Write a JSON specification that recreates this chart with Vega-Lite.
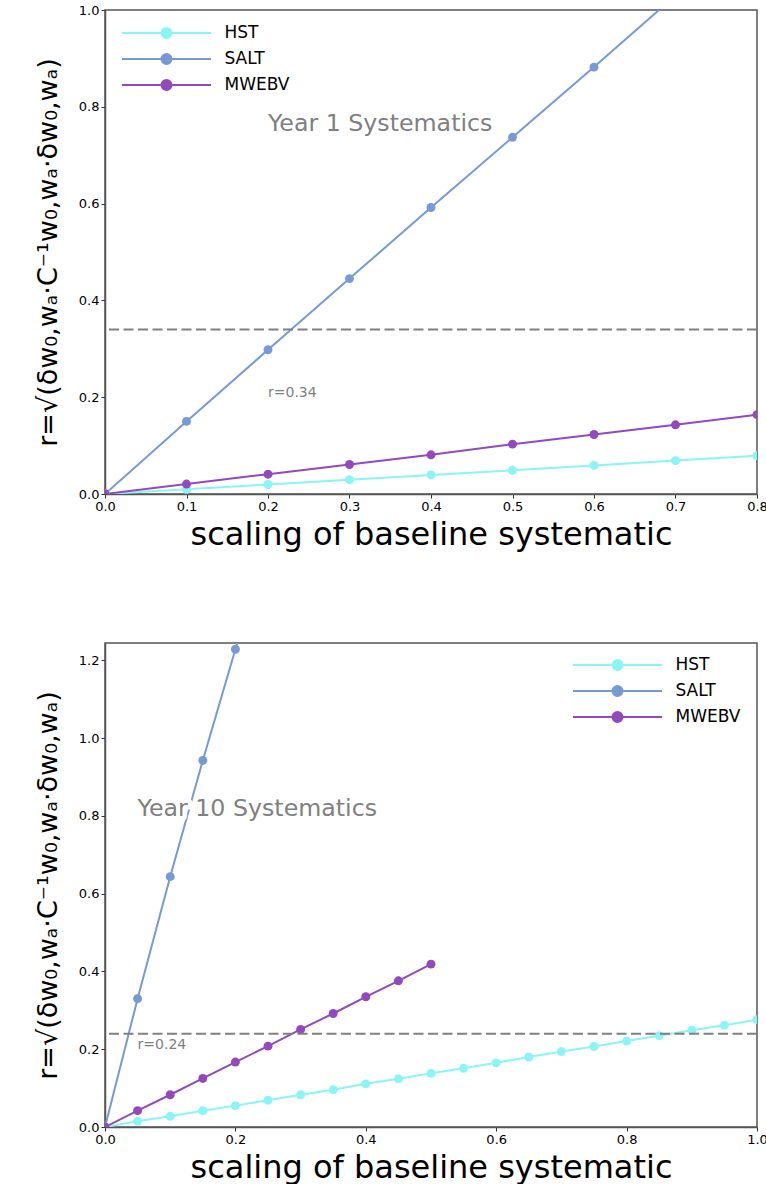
{
  "$schema": "https://vega.github.io/schema/vega-lite/v6.json",
  "background": "white",
  "padding": {"left": 33, "top": 3, "right": 0, "bottom": 0},
  "bounds": "flush",
  "spacing": 149,
  "datasets": {
    "y1": [
      {"series": "HST", "x": 0.0, "r": 0.0},
      {"series": "HST", "x": 0.1, "r": 0.0098},
      {"series": "HST", "x": 0.2, "r": 0.0197},
      {"series": "HST", "x": 0.3, "r": 0.0296},
      {"series": "HST", "x": 0.4, "r": 0.0394},
      {"series": "HST", "x": 0.5, "r": 0.049},
      {"series": "HST", "x": 0.6, "r": 0.059},
      {"series": "HST", "x": 0.7, "r": 0.069},
      {"series": "HST", "x": 0.8, "r": 0.079},
      {"series": "SALT", "x": 0.0, "r": 0.0},
      {"series": "SALT", "x": 0.1, "r": 0.15},
      {"series": "SALT", "x": 0.2, "r": 0.298},
      {"series": "SALT", "x": 0.3, "r": 0.445},
      {"series": "SALT", "x": 0.4, "r": 0.592},
      {"series": "SALT", "x": 0.5, "r": 0.737},
      {"series": "SALT", "x": 0.6, "r": 0.882},
      {"series": "SALT", "x": 0.7, "r": 1.03},
      {"series": "SALT", "x": 0.8, "r": 1.176},
      {"series": "MWEBV", "x": 0.0, "r": 0.0},
      {"series": "MWEBV", "x": 0.1, "r": 0.0205},
      {"series": "MWEBV", "x": 0.2, "r": 0.041},
      {"series": "MWEBV", "x": 0.3, "r": 0.061},
      {"series": "MWEBV", "x": 0.4, "r": 0.081},
      {"series": "MWEBV", "x": 0.5, "r": 0.103},
      {"series": "MWEBV", "x": 0.6, "r": 0.123},
      {"series": "MWEBV", "x": 0.7, "r": 0.143},
      {"series": "MWEBV", "x": 0.8, "r": 0.164}
    ],
    "y10": [
      {"series": "HST", "x": 0.0, "r": 0.0},
      {"series": "HST", "x": 0.05, "r": 0.0146},
      {"series": "HST", "x": 0.1, "r": 0.0275},
      {"series": "HST", "x": 0.15, "r": 0.042},
      {"series": "HST", "x": 0.2, "r": 0.055},
      {"series": "HST", "x": 0.25, "r": 0.069},
      {"series": "HST", "x": 0.3, "r": 0.083},
      {"series": "HST", "x": 0.35, "r": 0.096},
      {"series": "HST", "x": 0.4, "r": 0.111},
      {"series": "HST", "x": 0.45, "r": 0.124},
      {"series": "HST", "x": 0.5, "r": 0.138},
      {"series": "HST", "x": 0.55, "r": 0.151},
      {"series": "HST", "x": 0.6, "r": 0.165},
      {"series": "HST", "x": 0.65, "r": 0.18},
      {"series": "HST", "x": 0.7, "r": 0.194},
      {"series": "HST", "x": 0.75, "r": 0.207},
      {"series": "HST", "x": 0.8, "r": 0.221},
      {"series": "HST", "x": 0.85, "r": 0.235},
      {"series": "HST", "x": 0.9, "r": 0.249},
      {"series": "HST", "x": 0.95, "r": 0.262},
      {"series": "HST", "x": 1.0, "r": 0.276},
      {"series": "SALT", "x": 0.0, "r": 0.0},
      {"series": "SALT", "x": 0.05, "r": 0.33},
      {"series": "SALT", "x": 0.1, "r": 0.644},
      {"series": "SALT", "x": 0.15, "r": 0.943},
      {"series": "SALT", "x": 0.2, "r": 1.229},
      {"series": "SALT", "x": 0.25, "r": 1.52},
      {"series": "MWEBV", "x": 0.0, "r": 0.0},
      {"series": "MWEBV", "x": 0.05, "r": 0.042},
      {"series": "MWEBV", "x": 0.1, "r": 0.083},
      {"series": "MWEBV", "x": 0.15, "r": 0.125},
      {"series": "MWEBV", "x": 0.2, "r": 0.167},
      {"series": "MWEBV", "x": 0.25, "r": 0.208},
      {"series": "MWEBV", "x": 0.3, "r": 0.251},
      {"series": "MWEBV", "x": 0.35, "r": 0.292},
      {"series": "MWEBV", "x": 0.4, "r": 0.335},
      {"series": "MWEBV", "x": 0.45, "r": 0.376},
      {"series": "MWEBV", "x": 0.5, "r": 0.419}
    ]
  },
  "config": {
    "font": "DejaVu Sans",
    "view": {"stroke": "#555", "strokeWidth": 1.5},
    "axis": {
      "grid": false,
      "labelFlush": false,
      "labelFont": "DejaVu Sans",
      "labelFontSize": 13,
      "labelColor": "black",
      "labelPadding": 2,
      "tickSize": 4,
      "tickColor": "#333",
      "tickWidth": 1,
      "domainColor": "#555",
      "domainWidth": 1.5,
      "titleFont": "DejaVu Sans",
      "titleFontWeight": "normal",
      "titleColor": "black"
    },
    "legend": {
      "labelFont": "DejaVu Sans",
      "labelFontSize": 17,
      "labelColor": "black"
    }
  },
  "resolve": {
    "scale": {"color": "independent", "x": "independent", "y": "independent"},
    "legend": {"color": "independent"}
  },
  "vconcat": [
    {
      "width": 652,
      "height": 484,
      "data": {"name": "y1"},
      "layer": [
        {
          "encoding": {
            "x": {
              "field": "x", "type": "quantitative",
              "scale": {"domain": [0, 0.8], "nice": false, "zero": false},
              "axis": {"values": [0, 0.1, 0.2, 0.3, 0.4, 0.5, 0.6, 0.7, 0.8], "format": ".1f", "title": "scaling of baseline systematic", "titleFontSize": 32, "titlePadding": 6}
            },
            "y": {
              "field": "r", "type": "quantitative",
              "scale": {"domain": [0, 1.0], "nice": false},
              "axis": {"values": [0, 0.2, 0.4, 0.6, 0.8, 1.0], "format": ".1f", "title": "r=√(δw₀,wₐ·C⁻¹w₀,wₐ·δw₀,wₐ)", "titleFontSize": 27, "titlePadding": 16}
            },
            "color": {
              "field": "series", "type": "nominal",
              "scale": {"domain": ["HST", "SALT", "MWEBV"], "range": ["#8af5f5", "#7799d6", "#9448bd"]},
              "legend": {
                "title": null, "orient": "none", "legendX": 50.5, "legendY": 12,
                "symbolType": "M -4.45 0 L 4.45 0 M -0.5 0 A 0.5 0.5 0 1 0 0.5 0 A 0.5 0.5 0 1 0 -0.5 0 Z",
                "symbolSize": 400, "symbolStrokeWidth": 2, "symbolOpacity": 1,
                "labelOffset": 47, "rowPadding": 6, "padding": 0,
                "encode": {"symbols": {"update": {
                  "fill": {"signal": "datum.value === 'HST' ? '#8af5f5' : datum.value === 'SALT' ? '#7799d6' : '#9448bd'"},
                  "stroke": {"signal": "datum.value === 'HST' ? '#8af5f5' : datum.value === 'SALT' ? '#7799d6' : '#9448bd'"},
                  "opacity": {"value": 1}
                }}}
              }
            }
          },
          "layer": [
            {"mark": {"type": "line", "strokeWidth": 2, "clip": true}},
            {"mark": {"type": "point", "filled": true, "size": 80, "opacity": 1, "clip": true}}
          ]
        },
        {
          "data": {"values": [{}]},
          "mark": {"type": "rule", "color": "#808080", "strokeWidth": 2, "strokeDash": [10, 4.5]},
          "encoding": {"y": {"datum": 0.34}}
        },
        {
          "data": {"values": [{}]},
          "mark": {"type": "text", "text": "r=0.34", "fontSize": 14, "color": "#808080", "align": "left", "baseline": "alphabetic"},
          "encoding": {"x": {"datum": 0.2}, "y": {"datum": 0.2}}
        },
        {
          "data": {"values": [{}]},
          "mark": {"type": "text", "text": "Year 1 Systematics", "fontSize": 23.7, "color": "white", "stroke": "white", "strokeWidth": 9, "strokeJoin": "round", "align": "left", "baseline": "alphabetic"},
          "encoding": {"x": {"datum": 0.2}, "y": {"datum": 0.75}}
        },
        {
          "data": {"values": [{}]},
          "mark": {"type": "text", "text": "Year 1 Systematics", "fontSize": 23.7, "color": "#808080", "align": "left", "baseline": "alphabetic"},
          "encoding": {"x": {"datum": 0.2}, "y": {"datum": 0.75}}
        }
      ]
    },
    {
      "width": 652,
      "height": 484,
      "data": {"name": "y10"},
      "layer": [
        {
          "encoding": {
            "x": {
              "field": "x", "type": "quantitative",
              "scale": {"domain": [0, 1.0], "nice": false, "zero": false},
              "axis": {"values": [0, 0.2, 0.4, 0.6, 0.8, 1.0], "format": ".1f", "title": "scaling of baseline systematic", "titleFontSize": 32, "titlePadding": 6}
            },
            "y": {
              "field": "r", "type": "quantitative",
              "scale": {"domain": [0, 1.245], "nice": false},
              "axis": {"values": [0, 0.2, 0.4, 0.6, 0.8, 1.0, 1.2], "format": ".1f", "title": "r=√(δw₀,wₐ·C⁻¹w₀,wₐ·δw₀,wₐ)", "titleFontSize": 27, "titlePadding": 16}
            },
            "color": {
              "field": "series", "type": "nominal",
              "scale": {"domain": ["HST", "SALT", "MWEBV"], "range": ["#8af5f5", "#7799d6", "#9448bd"]},
              "legend": {
                "title": null, "orient": "none", "legendX": 501.5, "legendY": 11,
                "symbolType": "M -4.45 0 L 4.45 0 M -0.5 0 A 0.5 0.5 0 1 0 0.5 0 A 0.5 0.5 0 1 0 -0.5 0 Z",
                "symbolSize": 400, "symbolStrokeWidth": 2, "symbolOpacity": 1,
                "labelOffset": 47, "rowPadding": 6, "padding": 0,
                "encode": {"symbols": {"update": {
                  "fill": {"signal": "datum.value === 'HST' ? '#8af5f5' : datum.value === 'SALT' ? '#7799d6' : '#9448bd'"},
                  "stroke": {"signal": "datum.value === 'HST' ? '#8af5f5' : datum.value === 'SALT' ? '#7799d6' : '#9448bd'"},
                  "opacity": {"value": 1}
                }}}
              }
            }
          },
          "layer": [
            {"mark": {"type": "line", "strokeWidth": 2, "clip": true}},
            {"mark": {"type": "point", "filled": true, "size": 80, "opacity": 1, "clip": true}}
          ]
        },
        {
          "data": {"values": [{}]},
          "mark": {"type": "rule", "color": "#808080", "strokeWidth": 2, "strokeDash": [10, 4.5]},
          "encoding": {"y": {"datum": 0.24}}
        },
        {
          "data": {"values": [{}]},
          "mark": {"type": "text", "text": "r=0.24", "fontSize": 14, "color": "#808080", "align": "left", "baseline": "alphabetic"},
          "encoding": {"x": {"datum": 0.05}, "y": {"datum": 0.2}}
        },
        {
          "data": {"values": [{}]},
          "mark": {"type": "text", "text": "Year 10 Systematics", "fontSize": 23.7, "color": "white", "stroke": "white", "strokeWidth": 9, "strokeJoin": "round", "align": "left", "baseline": "alphabetic"},
          "encoding": {"x": {"datum": 0.05}, "y": {"datum": 0.8}}
        },
        {
          "data": {"values": [{}]},
          "mark": {"type": "text", "text": "Year 10 Systematics", "fontSize": 23.7, "color": "#808080", "align": "left", "baseline": "alphabetic"},
          "encoding": {"x": {"datum": 0.05}, "y": {"datum": 0.8}}
        }
      ]
    }
  ]
}
